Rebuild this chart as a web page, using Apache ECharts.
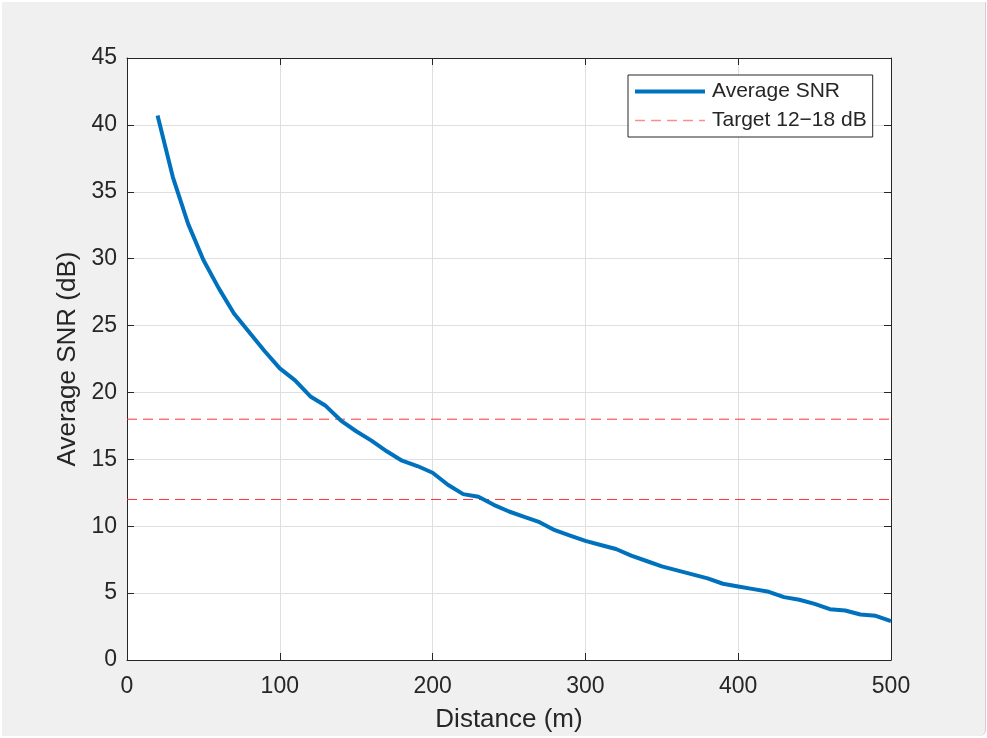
<!DOCTYPE html>
<html>
<head>
<meta charset="utf-8">
<script src="https://cdn.jsdelivr.net/npm/echarts@6/dist/echarts.min.js"></script>
<style>
html, body { margin: 0; padding: 0; background: #ffffff; }
#chart { position: absolute; left: 2px; top: 2px; width: 983px; height: 734px; background: #f0f0f0; border-right: 1px solid #d0d0d0; border-bottom-right-radius: 6px; }
</style>
</head>
<body>
<div id="chart"></div>
<script>
const distances = [20, 30, 40, 50, 60, 70, 80, 90, 100, 110, 120, 130, 140, 150, 160, 170, 180, 190, 200,
  210, 220, 230, 240, 250, 260, 270, 280, 290, 300, 310, 320, 330, 340, 350, 360, 370, 380, 390, 400,
  410, 420, 430, 440, 450, 460, 470, 480, 490, 500];
const avgSnr = [40.7, 36.1, 32.6, 29.9, 27.8, 25.9, 24.5, 23.1, 21.8, 20.9, 19.7, 19.0, 17.9, 17.1, 16.4, 15.6, 14.9, 14.5, 14.0,
  13.1, 12.4, 12.2, 11.6, 11.1, 10.7, 10.3, 9.7, 9.3, 8.9, 8.6, 8.3, 7.8, 7.4, 7.0, 6.7, 6.4, 6.1, 5.7, 5.5,
  5.3, 5.1, 4.7, 4.5, 4.2, 3.8, 3.7, 3.4, 3.3, 2.9];
const targetLevels = [12, 18];
const targetRange = [0, 500];
const xTicks = [0, 100, 200, 300, 400, 500];
const yTicks = [0, 5, 10, 15, 20, 25, 30, 35, 40, 45];

const FONT = 'Liberation Sans, Arial, sans-serif';
const AX = '#262626';
const BLUE = '#0072BD';
const RED = '#ff3030';
const TARGET_NAME = 'Target 12\u221218 dB';

const chart = echarts.init(document.getElementById('chart'), null, { renderer: 'canvas' });

const snrSeries = {
  name: 'Average SNR',
  type: 'line',
  data: distances.map((d, i) => [d, avgSnr[i]]),
  symbol: 'none',
  silent: true,
  legendHoverLink: false,
  emphasis: { disabled: true },
  lineStyle: { color: BLUE, width: 4 },
  itemStyle: { color: BLUE },
  z: 5
};
// legend-only entry for the target band
const targetLegendSeries = {
  name: TARGET_NAME,
  type: 'line',
  data: [],
  symbol: 'none',
  silent: true,
  lineStyle: { color: '#ff8c8c', width: 1.5, type: [10, 6] },
  itemStyle: { color: '#ff8c8c' }
};
const targetSeries = targetLevels.map(v => ({
  name: 'target-' + v,
  type: 'line',
  data: targetRange.map(x => [x, v]),
  symbol: 'none',
  silent: true,
  legendHoverLink: false,
  emphasis: { disabled: true },
  color: RED,
  lineStyle: { color: RED, width: 1, type: [10, 6], opacity: 1 },
  itemStyle: { color: RED },
  z: 4
}));

const xBase = {
  type: 'value', min: xTicks[0], max: xTicks[xTicks.length - 1], interval: 100,
  axisLine: { show: true, onZero: false, lineStyle: { color: AX, width: 1 } },
  axisTick: { show: true, inside: true, length: 7, lineStyle: { color: AX } }
};
const yBase = {
  type: 'value', min: yTicks[0], max: yTicks[yTicks.length - 1], interval: 5,
  axisLine: { show: true, onZero: false, lineStyle: { color: AX, width: 1 } },
  axisTick: { show: true, inside: true, length: 7, lineStyle: { color: AX } }
};

chart.setOption({
  animation: false,
  backgroundColor: 'transparent',
  textStyle: { fontFamily: FONT },
  tooltip: { show: false },
  grid: { left: 125, right: 94, top: 56, bottom: 76, show: true, backgroundColor: '#ffffff', borderWidth: 0, containLabel: false, outerBoundsMode: 'none' },
  legend: {
    orient: 'vertical',
    left: 626, top: 73,
    selectedMode: false,
    data: [
      { name: 'Average SNR', itemStyle: { opacity: 0 }, lineStyle: { color: BLUE, width: 4 } },
      { name: TARGET_NAME, itemStyle: { opacity: 0 }, lineStyle: { color: '#ff8c8c', width: 1.5, type: [10, 6] } }
    ],
    backgroundColor: '#ffffff',
    borderColor: AX, borderWidth: 1,
    padding: [6, 6, 6, 5],
    itemWidth: 70, itemHeight: 10, itemGap: 8,
    textStyle: { fontFamily: FONT, fontSize: 21, color: AX, padding: [0, 0, 0, 2] }
  },
  xAxis: [
    Object.assign({}, xBase, {
      position: 'bottom',
      name: 'Distance (m)', nameLocation: 'middle', nameGap: 47,
      nameTextStyle: { fontFamily: FONT, fontSize: 26, color: AX },
      axisLabel: { fontFamily: FONT, fontSize: 23, color: AX, margin: 15 },
      splitLine: { show: true, lineStyle: { color: '#dfdfdf', width: 1 } }
    }),
    Object.assign({}, xBase, { position: 'top', axisLabel: { show: false }, splitLine: { show: false } })
  ],
  yAxis: [
    Object.assign({}, yBase, {
      position: 'left',
      name: 'Average SNR (dB)', nameLocation: 'middle', nameGap: 40,
      nameTextStyle: { fontFamily: FONT, fontSize: 26, color: AX },
      axisLabel: { fontFamily: FONT, fontSize: 23, color: AX, margin: 10 },
      splitLine: { show: true, lineStyle: { color: '#dfdfdf', width: 1 } }
    }),
    Object.assign({}, yBase, { position: 'right', axisLabel: { show: false }, splitLine: { show: false } })
  ],
  series: [snrSeries, targetLegendSeries].concat(targetSeries)
});
</script>
</body>
</html>
